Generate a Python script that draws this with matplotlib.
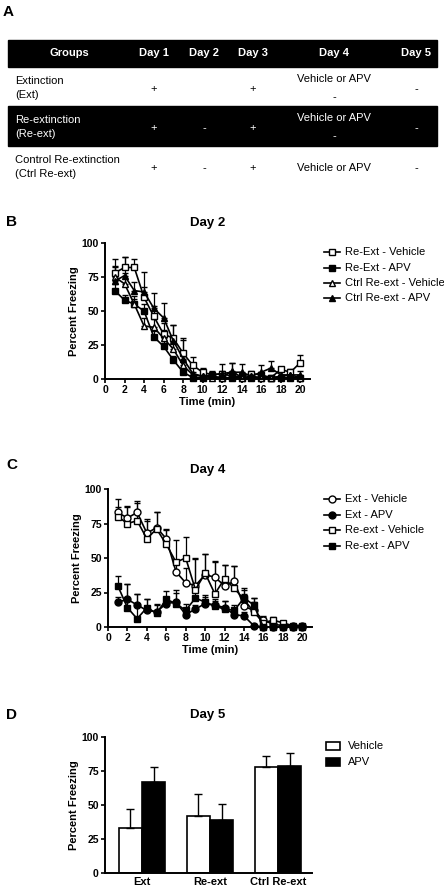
import matplotlib
matplotlib.use("Agg")
import matplotlib.pyplot as plt
from matplotlib.patches import Rectangle
from matplotlib.lines import Line2D
import numpy as np

plt.rcParams['font.family'] = ['Liberation Sans', 'DejaVu Sans']

# ---------------- data ----------------
table_header = ["Groups", "Day 1", "Day 2", "Day 3", "Day 4", "Day 5"]
table_groups = [("Extinction", "(Ext)"), ("Re-extinction", "(Re-ext)"),
                ("Control Re-extinction", "(Ctrl Re-ext)")]
table_cells = [
    ["+", "", "+", "Vehicle or APV\n-", "-"],
    ["+", "-", "+", "Vehicle or APV\n-", "-"],
    ["+", "-", "+", "Vehicle or APV", "-"],
]

minutes = list(range(1, 21))

# Day 2
b_labels = ["Re-Ext - Vehicle", "Re-Ext - APV", "Ctrl Re-ext - Vehicle", "Ctrl Re-ext - APV"]
b_reext_veh = [78, 82, 82, 60, 46, 33, 30, 19, 10, 5, 3, 4, 2, 2, 4, 3, 1, 7, 5, 12]
b_reext_veh_err = [10, 8, 6, 8, 8, 8, 10, 10, 6, 3, 2, 2, 2, 2, 2, 2, 1, 2, 2, 6]
b_reext_apv = [65, 58, 55, 50, 31, 24, 14, 5, 1, 1, 2, 1, 1, 1, 1, 1, 1, 1, 1, 1]
b_reext_apv_err = [5, 4, 4, 5, 4, 4, 3, 2, 1, 1, 1, 1, 1, 1, 1, 1, 1, 1, 1, 1]
b_ctrl_veh = [75, 70, 55, 39, 38, 30, 22, 10, 3, 2, 1, 1, 6, 1, 2, 1, 1, 2, 3, 1]
b_ctrl_veh_err = [8, 8, 6, 6, 6, 6, 5, 4, 2, 2, 1, 2, 6, 2, 1, 1, 1, 1, 2, 1]
b_ctrl_apv = [72, 76, 65, 64, 52, 45, 28, 15, 4, 2, 3, 4, 5, 5, 2, 5, 8, 3, 3, 3]
b_ctrl_apv_err = [10, 14, 6, 15, 11, 11, 12, 15, 5, 3, 3, 7, 7, 6, 2, 5, 5, 3, 3, 3]

# Day 4
c_labels = ["Ext - Vehicle", "Ext - APV", "Re-ext - Vehicle", "Re-ext - APV"]
c_ext_veh = [83, 79, 83, 68, 72, 64, 40, 32, 30, 38, 36, 30, 33, 15, 12, 5, 2, 1, 1, 1]
c_ext_veh_err = [10, 9, 8, 10, 11, 7, 8, 11, 20, 15, 12, 15, 11, 9, 6, 3, 2, 1, 1, 1]
c_ext_apv = [18, 20, 16, 12, 11, 17, 18, 9, 13, 17, 16, 14, 9, 8, 1, 0, 0, 0, 0, 0]
c_ext_apv_err = [4, 11, 8, 8, 6, 4, 7, 3, 3, 5, 4, 5, 4, 3, 1, 0, 0, 0, 0, 0]
c_reext_veh = [80, 75, 77, 64, 71, 60, 47, 50, 27, 39, 24, 35, 28, 20, 11, 3, 5, 3, 1, 1]
c_reext_veh_err = [7, 12, 13, 13, 12, 10, 16, 15, 22, 14, 23, 10, 16, 8, 10, 4, 2, 1, 1, 1]
c_reext_apv = [30, 14, 6, 14, 10, 20, 17, 12, 21, 18, 15, 13, 12, 21, 16, 0, 0, 0, 0, 0]
c_reext_apv_err = [7, 17, 18, 6, 6, 6, 10, 5, 5, 5, 4, 6, 4, 6, 5, 0, 0, 0, 0, 0]

# Day 5
d_groups = ["Ext", "Re-ext", "Ctrl Re-ext"]
d_vehicle = [33, 42, 78]
d_vehicle_err = [14, 16, 8]
d_apv = [67, 39, 79]
d_apv_err = [11, 12, 9]

# ---------------- figure ----------------
W, H = 444, 888
fig = plt.figure(figsize=(W / 100, H / 100), dpi=100)

TXT = 8
TICK = 7.5
LEG = 8


def rect(l, t, r, b):
    return [l / W, 1 - b / H, (r - l) / W, (b - t) / H]


# Panel A: table drawn in pixel coordinates
axA = fig.add_axes([0, 0, 1, 1])
axA.set_xlim(0, W)
axA.set_ylim(H, 0)
axA.axis('off')
fig.text(3 / W, 1 - 12 / H, "A", fontsize=11, fontweight='bold', va='center', ha='left')
col_x = [69, 154, 204, 253, 334, 416]
row_edges = [40, 67, 106, 146, 182]
axA.add_patch(Rectangle((8, row_edges[0]), 429, row_edges[1] - row_edges[0], color='black'))
axA.add_patch(Rectangle((8, row_edges[2]), 429, row_edges[3] - row_edges[2], color='black'))
for x, h in zip(col_x, table_header):
    axA.text(x, (row_edges[0] + row_edges[1]) / 2, h, color='white', fontsize=TXT,
             fontweight='bold', ha='center', va='center')
for i, (g, cells) in enumerate(zip(table_groups, table_cells)):
    t, b = row_edges[i + 1], row_edges[i + 2]
    fg = 'white' if i == 1 else 'black'
    axA.text(15, t + 14, g[0], color=fg, fontsize=TXT, ha='left', va='center')
    axA.text(15, t + 28, g[1], color=fg, fontsize=TXT, ha='left', va='center')
    for x, c in zip(col_x[1:], cells):
        if "\n" in c:
            a, bb = c.split("\n")
            axA.text(x, t + 12, a, color=fg, fontsize=TXT, ha='center', va='center')
            axA.text(x, t + 30, bb, color=fg, fontsize=TXT, ha='center', va='center')
        else:
            axA.text(x, t + 22, c, color=fg, fontsize=TXT, ha='center', va='center')


def style_axes(ax):
    for s in ['top', 'right']:
        ax.spines[s].set_visible(False)
    for s in ['left', 'bottom']:
        ax.spines[s].set_linewidth(1.4)
    ax.tick_params(width=1.2, length=3, labelsize=TICK, pad=1.5)
    for lab in ax.get_xticklabels() + ax.get_yticklabels():
        lab.set_fontweight('bold')
    ax.set_ylim(0, 100)
    ax.set_yticks([0, 25, 50, 75, 100])
    ax.set_ylabel("Percent Freezing", fontsize=8, fontweight='bold', labelpad=2)


def line_panel(ax, series, legend_labels, legend_y, title, title_y, letter, letter_y):
    for y, e, mk, fc in series:
        ax.errorbar(minutes, y, yerr=[np.zeros(len(e)), e], color='black', marker=mk,
                    mfc=fc, mec='black', ms=5, lw=1.2, elinewidth=0.9, capsize=2.5,
                    capthick=0.9, mew=1.0, clip_on=False)
    ax.set_xlim(0, 21)
    ax.set_xticks(range(0, 21, 2))
    ax.set_xlabel("Time (min)", fontsize=8, fontweight='bold', labelpad=1)
    style_axes(ax)
    fig.text(6 / W, 1 - letter_y / H, letter, fontsize=11, fontweight='bold', va='center')
    fig.text(208 / W, 1 - title_y / H, title, fontsize=9.5, fontweight='bold', ha='center', va='center')
    for (y, e, mk, fc), lab, ly in zip(series, legend_labels, legend_y):
        fig.lines.append(Line2D([324 / W, 340 / W], [1 - ly / H] * 2, color='black', lw=1.2,
                                transform=fig.transFigure))
        fig.lines.append(Line2D([332 / W], [1 - ly / H], marker=mk, mfc=fc, mec='black',
                                ms=5, mew=1.0, color='black', transform=fig.transFigure))
        fig.text(345 / W, 1 - ly / H, lab, fontsize=LEG, va='center', ha='left')


# Panel B
axB = fig.add_axes(rect(105, 243, 310, 379))
seriesB = [(b_reext_veh, b_reext_veh_err, 's', 'white'),
           (b_reext_apv, b_reext_apv_err, 's', 'black'),
           (b_ctrl_veh, b_ctrl_veh_err, '^', 'white'),
           (b_ctrl_apv, b_ctrl_apv_err, '^', 'black')]
line_panel(axB, seriesB, b_labels, [252, 268, 283, 298], "Day 2", 223, "B", 222)

# Panel C
axC = fig.add_axes(rect(108, 489, 312, 627))
seriesC = [(c_ext_veh, c_ext_veh_err, 'o', 'white'),
           (c_ext_apv, c_ext_apv_err, 'o', 'black'),
           (c_reext_veh, c_reext_veh_err, 's', 'white'),
           (c_reext_apv, c_reext_apv_err, 's', 'black')]
line_panel(axC, seriesC, c_labels, [499, 515, 530, 546], "Day 4", 470, "C", 465)

# Panel D
axD = fig.add_axes(rect(105, 737, 312, 873))
xpos = np.arange(len(d_groups))
bw = 0.34
axD.bar(xpos - bw / 2, d_vehicle, bw, color='white', edgecolor='black', linewidth=1.2,
        yerr=[np.zeros(3), d_vehicle_err], capsize=3,
        error_kw=dict(elinewidth=1.0, capthick=1.0))
axD.bar(xpos + bw / 2, d_apv, bw, color='black', edgecolor='black', linewidth=1.2,
        yerr=[np.zeros(3), d_apv_err], capsize=3,
        error_kw=dict(elinewidth=1.0, capthick=1.0))
axD.set_xlim(-0.544, 2.5)
axD.set_xticks(xpos)
axD.set_xticklabels(d_groups)
style_axes(axD)
axD.tick_params(axis='x', length=0, labelsize=8, pad=3)
fig.text(6 / W, 1 - 715 / H, "D", fontsize=11, fontweight='bold', va='center')
fig.text(208 / W, 1 - 715 / H, "Day 5", fontsize=9.5, fontweight='bold', ha='center', va='center')
for lab, fc, ly in [("Vehicle", 'white', 746), ("APV", 'black', 762)]:
    fig.patches.append(Rectangle((326 / W, 1 - (ly + 4) / H), 14 / W, 8 / H, facecolor=fc,
                                 edgecolor='black', lw=1.2, transform=fig.transFigure))
    fig.text(348 / W, 1 - ly / H, lab, fontsize=LEG, va='center', ha='left')

fig.savefig("out.png", dpi=100)
